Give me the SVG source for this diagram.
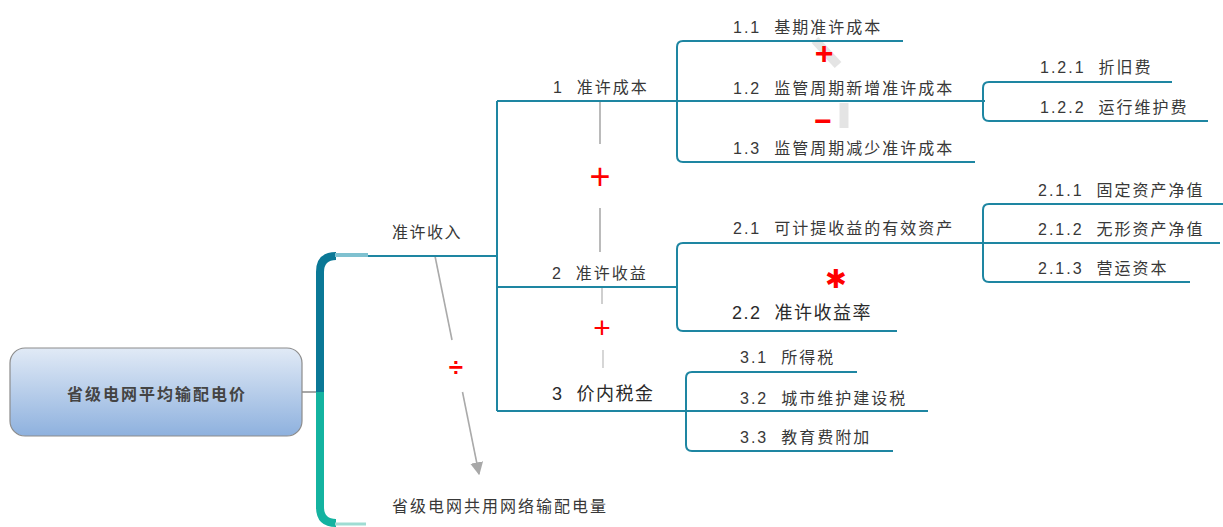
<svg xmlns="http://www.w3.org/2000/svg" width="1223" height="527" viewBox="0 0 1223 527" xml:space="preserve">
<defs>
<linearGradient id="rootGrad" x1="0" y1="0" x2="0" y2="1">
<stop offset="0" stop-color="#e1eaf6"/>
<stop offset="1" stop-color="#8eb1de"/>
</linearGradient>
<marker id="arrowGrayL" viewBox="0 0 10 10" refX="9" refY="5" markerWidth="13" markerHeight="13" markerUnits="userSpaceOnUse" orient="auto">
<path d="M0,0 L10,5 L0,10 z" fill="#a8a8a8"/>
</marker>
</defs>
<style>
text{font-family:"Liberation Sans","Noto Sans CJK SC",sans-serif;fill:#383838;white-space:pre;}
.t{font-size:16px;letter-spacing:2px;}
.tb{font-size:18px;letter-spacing:1.5px;fill:#2a2a2a;}
.ln{fill:none;stroke:#1e86a2;stroke-width:2;}
.rel{fill:none;stroke:#aaaaaa;stroke-width:1.6;}
.band{fill:none;stroke:#e4e4e4;stroke-width:9;}
.op{fill:#ff0000;font-family:"Liberation Sans","DejaVu Sans",sans-serif;text-anchor:middle;}
</style>
<rect width="1223" height="527" fill="#ffffff"/>

<g id="relations">
<path class="band" d="M815,40 L838,65"/>
<path class="band" d="M844,103 L844,128"/>
<path class="rel" d="M600,102 V144 M600,208 V252"/>
<path class="rel" d="M602,286 V304" stroke-opacity="0.7"/>
<path class="rel" d="M603,350 V368" stroke-opacity="0.6"/>
<path class="rel" d="M435,256 L452,340"/>
<path class="rel" d="M462.5,392 L479,474" marker-end="url(#arrowGrayL)"/>
</g>

<g id="connectors">
<line x1="302" y1="392" x2="317" y2="392" stroke="#8a8a8a" stroke-width="1.5"/>
<path d="M320,392 V272 Q320,256 336,256" fill="none" stroke="#0a7896" stroke-width="8"/>
<line x1="335" y1="255" x2="368" y2="255" stroke="#7fc1d0" stroke-width="4"/>
<path d="M320,392 V507 Q320,523 336,523" fill="none" stroke="#14b3a0" stroke-width="8"/>
<line x1="335" y1="524" x2="366" y2="524" stroke="#9fdcd3" stroke-width="3"/>
<path class="ln" d="M368,256 H497"/>
<path class="ln" d="M497,101 V411"/>
<path class="ln" d="M497,101 H985"/>
<path class="ln" d="M497,287 H677"/>
<path class="ln" d="M497,411 H928"/>
<path class="ln" d="M903,41 H683 Q677,41 677,47 V156 Q677,162 683,162 H975"/>
<path class="ln" d="M1172,82 H989 Q983,82 983,88 V115 Q983,121 989,121 H1208"/>
<path class="ln" d="M983,243 H683 Q677,243 677,249 V325 Q677,331 683,331 H897"/>
<path class="ln" d="M983,243 H1220"/>
<path class="ln" d="M1223,204 H989 Q983,204 983,210 V276 Q983,282 989,282 H1190"/>
<path class="ln" d="M857,372 H692 Q686,372 686,378 V445 Q686,451 692,451 H893"/>
</g>

<g id="node-root">
<rect x="10" y="348" width="292" height="88" rx="15" ry="15" fill="url(#rootGrad)" stroke="#8c8c8c" stroke-width="1.2"/>
<text class="t" x="157" y="400" text-anchor="middle" style="fill:#444444;font-weight:bold">省级电网平均输配电价</text>
</g>
<g id="node-revenue"><text class="t" x="392" y="238" style="letter-spacing:1.5px">准许收入</text></g>
<g id="node-volume"><text class="t" x="392" y="512">省级电网共用网络输配电量</text></g>
<g id="node-1"><text class="t" x="553" y="93">1  准许成本</text></g>
<g id="node-1-1"><text class="t" x="733" y="33">1.1  基期准许成本</text></g>
<g id="node-1-2"><text class="t" x="733" y="94">1.2  监管周期新增准许成本</text></g>
<g id="node-1-3"><text class="t" x="733" y="154">1.3  监管周期减少准许成本</text></g>
<g id="node-1-2-1"><text class="t" x="1040" y="73">1.2.1  折旧费</text></g>
<g id="node-1-2-2"><text class="t" x="1040" y="113">1.2.2  运行维护费</text></g>
<g id="node-2"><text class="t" x="552" y="279">2  准许收益</text></g>
<g id="node-2-1"><text class="t" x="733" y="234">2.1  可计提收益的有效资产</text></g>
<g id="node-2-1-1"><text class="t" x="1038" y="196">2.1.1  固定资产净值</text></g>
<g id="node-2-1-2"><text class="t" x="1038" y="235">2.1.2  无形资产净值</text></g>
<g id="node-2-1-3"><text class="t" x="1038" y="274">2.1.3  营运资本</text></g>
<g id="node-2-2"><text class="tb" x="732" y="319">2.2  准许收益率</text></g>
<g id="node-3"><text class="tb" x="552" y="400">3  价内税金</text></g>
<g id="node-3-1"><text class="t" x="740" y="363">3.1  所得税</text></g>
<g id="node-3-2"><text class="t" x="740" y="404">3.2  城市维护建设税</text></g>
<g id="node-3-3"><text class="t" x="740" y="443">3.3  教育费附加</text></g>

<g id="operators">
<text class="op" x="600" y="189" font-size="36">+</text>
<text class="op" x="602" y="338" font-size="30">+</text>
<text class="op" x="824" y="64" font-size="32" font-weight="bold">+</text>
<text class="op" x="823" y="131" font-size="30" font-weight="bold">−</text>
<text class="op" x="456" y="376" font-size="26" font-weight="bold">÷</text>
<text class="op" x="836" y="288" font-size="26" style="font-family:'DejaVu Sans',sans-serif">✱</text>
</g>
</svg>
